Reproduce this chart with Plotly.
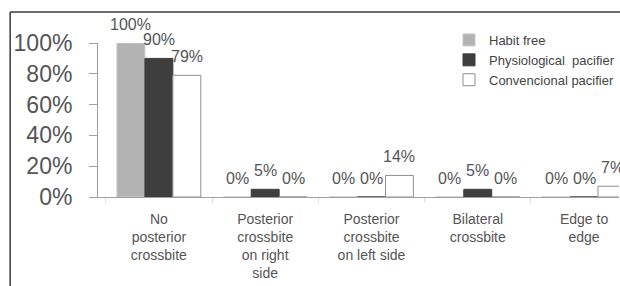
import plotly.graph_objects as go

categories = ["No<br>posterior<br>crossbite",
              "Posterior<br>crossbite<br>on right<br>side",
              "Posterior<br>crossbite<br>on left side",
              "Bilateral<br>crossbite",
              "Edge to<br>edge"]
habit_free = [100, 0, 0, 0, 0]
physiological = [90, 5, 0, 5, 0]
conventional = [79, 0, 14, 0, 7]
series_names = ["Habit free", "Physiological  pacifier", "Convencional pacifier"]
y_ticks = [0, 20, 40, 60, 80, 100]
y_tick_labels = ["0%", "20%", "40%", "60%", "80%", "100%"]

FONT = "Liberation Sans, Arial, sans-serif"
TXT = "#555555"

fig = go.Figure()
fig.add_trace(go.Bar(name=series_names[0], x=categories, y=habit_free,
                     marker=dict(color="#b3b3b3", line=dict(color="#c8c8c8", width=1))))
fig.add_trace(go.Bar(name=series_names[1], x=categories, y=physiological,
                     marker=dict(color="#3e3e3e", line=dict(color="#3e3e3e", width=1))))
fig.add_trace(go.Bar(name=series_names[2], x=categories, y=conventional,
                     marker=dict(color="#ffffff", line=dict(color="#8f8f8f", width=1))))

# value labels
offsets = [-28, 0, 28]
annotations = []
for series, dx in zip([habit_free, physiological, conventional], offsets):
    for cat, v in zip(categories, series):
        annotations.append(dict(x=cat, y=v, xref="x", yref="y", text=f"{v}%",
                                showarrow=False, xshift=dx, yshift=8,
                                yanchor="bottom", xanchor="center",
                                font=dict(family=FONT, size=16, color=TXT)))

fig.update_layout(
    width=620, height=286,
    margin=dict(l=98, r=0, t=43, b=89),
    paper_bgcolor="white", plot_bgcolor="white",
    barmode="group", bargap=0.211, bargroupgap=0,
    font=dict(family=FONT, color=TXT),
    showlegend=True,
    legend=dict(x=0.674, y=1.117, xanchor="left", yanchor="top",
                font=dict(family=FONT, size=13, color="#444444"),
                bgcolor="rgba(0,0,0,0)", traceorder="normal",
                itemwidth=30, tracegroupgap=0),
    annotations=annotations,
    shapes=[
        dict(type="line", xref="paper", yref="paper", x0=-0.1686, x1=-0.1686,
             y0=1.2013, y1=-1.0, line=dict(color="#3a3a3a", width=1.5)),
        dict(type="line", xref="paper", yref="paper", x0=-0.1686, x1=1.1,
             y0=1.2013, y1=1.2013, line=dict(color="#3a3a3a", width=1.5)),
    ],
)
fig.update_xaxes(type="category", range=[-0.5728, 4.329],
                 showline=True, linecolor="#a0a0a0", linewidth=1,
                 ticks="outside", tickson="boundaries", ticklen=5, tickcolor="#e0e0e0",
                 tickfont=dict(family=FONT, size=14, color=TXT),
                 showgrid=False, zeroline=False, ticklabelstandoff=9)
fig.update_yaxes(range=[0, 100], tickvals=y_ticks, ticktext=y_tick_labels,
                 showline=True, linecolor="#a0a0a0", linewidth=1,
                 ticks="outside", ticklen=8, tickcolor="#a0a0a0",
                 tickfont=dict(family=FONT, size=23, color=TXT),
                 showgrid=False, zeroline=False, ticklabelstandoff=12)

fig.write_html("out.html", config={"displayModeBar": False},
               post_script="document.body.style.margin='0';document.body.style.overflow='hidden';")
